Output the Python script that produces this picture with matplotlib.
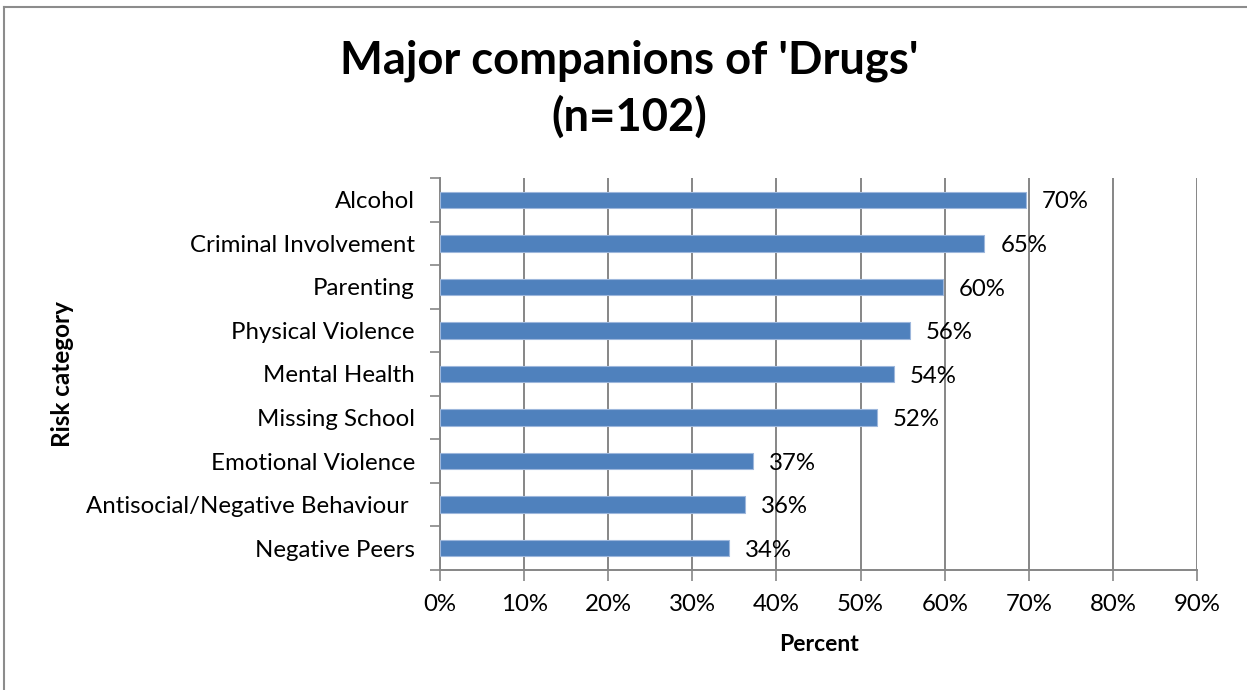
import matplotlib.pyplot as plt
import numpy as np
from matplotlib.lines import Line2D
from matplotlib.ticker import FixedLocator, PercentFormatter

# Risk categories (top to bottom) and number of cases out of n=102
categorias = ['Alcohol', 'Criminal Involvement', 'Parenting', 'Physical Violence',
              'Mental Health', 'Missing School', 'Emotional Violence',
              'Antisocial/Negative Behaviour ', 'Negative Peers']
casos = [71, 66, 61, 57, 55, 53, 38, 37, 35]
N_TOTAL = 102

percentuais = [100 * c / N_TOTAL for c in casos]
x_ticks = list(range(0, 91, 10))

COR_BARRA = '#4F81BD'
COR_GRADE = '#868686'
TAM = 17.3

plt.rcParams['font.family'] = ['Lato', 'DejaVu Sans']

fig = plt.figure(figsize=(12.47, 6.9), dpi=100)
ax = fig.add_axes([0.3528, 0.174, 0.6072, 0.568])

pos = np.arange(len(categorias))[::-1]
ax.barh(pos, percentuais, height=0.38, color=COR_BARRA, edgecolor='#9DB7DC',
        linewidth=0.8, zorder=3)

for p, v in zip(pos, percentuais):
    ax.text(v + 1.9, p - 0.05, f'{v:.0f}%', va='center', ha='left', fontsize=TAM)

ax.set_xlim(0, 90)
ax.set_ylim(-0.5, len(categorias) - 0.5)
ax.set_xticks(x_ticks)
ax.xaxis.set_major_formatter(PercentFormatter(decimals=0))
ax.set_yticks(pos)
ax.set_yticklabels(categorias)
ax.yaxis.set_minor_locator(FixedLocator(np.arange(-0.5, len(categorias), 1)))
ax.tick_params(axis='y', which='major', length=0, pad=18, labelsize=TAM)
ax.tick_params(axis='y', which='minor', length=7, width=1.2, color=COR_GRADE)
ax.tick_params(axis='x', length=8, width=1.2, color=COR_GRADE, pad=9, labelsize=TAM)

ax.grid(axis='x', color=COR_GRADE, linewidth=1.4, zorder=0)
ax.set_axisbelow(True)
for lado in ['top', 'right']:
    ax.spines[lado].set_visible(False)
for lado in ['left', 'bottom']:
    ax.spines[lado].set_color(COR_GRADE)
    ax.spines[lado].set_linewidth(1.4)

ax.set_xlabel('Percent', fontsize=16.5, fontweight='bold', labelpad=14)
ax.set_ylabel('Risk category', fontsize=17.5, fontweight='bold')
ax.yaxis.set_label_coords(-0.483, 0.5)

fig.text(0.505, 0.912, "Major companions of 'Drugs'", ha='center', va='center',
         fontsize=32.7, fontweight='bold')
fig.text(0.505, 0.83, '(n=102)', ha='center', va='center',
         fontsize=32.7, fontweight='bold')

# moldura do grafico (so aparecem as bordas de cima e da esquerda)
fig.add_artist(Line2D([4 / 1247, 1], [1 - 7 / 690, 1 - 7 / 690],
                      transform=fig.transFigure, color='#8c8c8c', linewidth=1.5))
fig.add_artist(Line2D([4 / 1247, 4 / 1247], [0, 1 - 7 / 690],
                      transform=fig.transFigure, color='#8c8c8c', linewidth=1.5))

fig.savefig('out.png', dpi=100)
